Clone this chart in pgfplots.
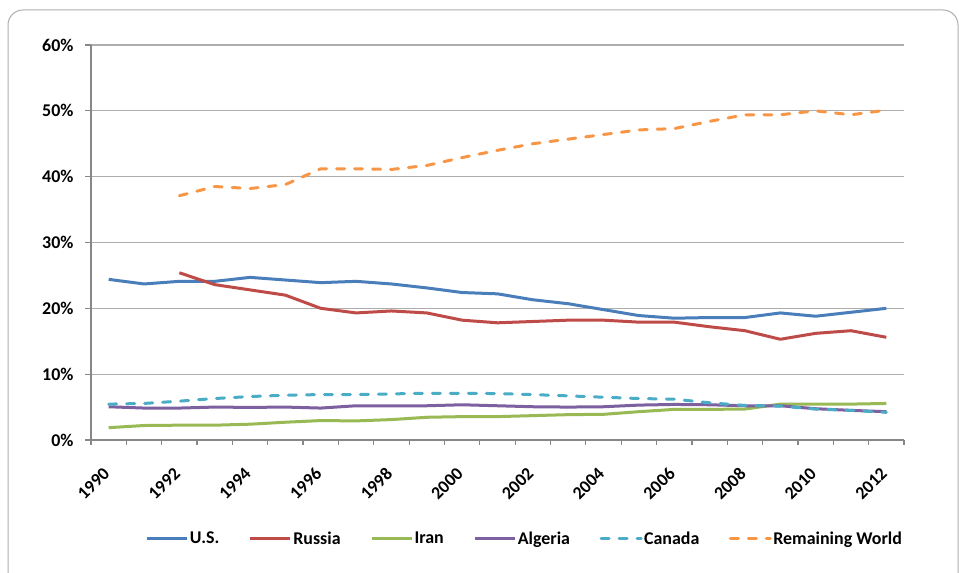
\documentclass[border=0pt]{standalone}
\usepackage{pgfplots}
\pgfplotsset{compat=1.18}
\usepackage{pgfplotstable}
\usepackage{fontspec}
\setmainfont{Carlito}
\definecolor{cUS}{HTML}{4A7EBB}
\definecolor{cRU}{HTML}{BE4B48}
\definecolor{cIR}{HTML}{98B954}
\definecolor{cAL}{HTML}{7D60A0}
\definecolor{cCA}{HTML}{4BACC6}
\definecolor{cRW}{HTML}{F79646}
\definecolor{axgray}{HTML}{878787}
\definecolor{gridgray}{HTML}{ADADAD}
\pgfplotstableread{
year US Russia Iran Algeria Canada RW
1990 24.4 nan 1.87 5.05 5.45 nan
1991 23.7 nan 2.20 4.85 5.55 nan
1992 24.1 25.4 2.25 4.85 5.90 37.1
1993 24.1 23.6 2.25 5.00 6.30 38.5
1994 24.7 22.8 2.40 4.95 6.60 38.2
1995 24.3 22.0 2.70 5.00 6.80 38.8
1996 23.9 20.0 2.95 4.85 6.90 41.2
1997 24.1 19.3 2.90 5.20 6.90 41.2
1998 23.7 19.6 3.10 5.20 7.00 41.1
1999 23.1 19.3 3.45 5.20 7.10 41.7
2000 22.4 18.2 3.55 5.35 7.10 42.9
2001 22.2 17.8 3.55 5.20 7.05 44.0
2002 21.3 18.0 3.70 5.05 6.90 45.0
2003 20.7 18.2 3.85 5.00 6.70 45.7
2004 19.8 18.2 3.90 5.05 6.50 46.4
2005 18.9 17.9 4.30 5.30 6.30 47.1
2006 18.5 17.9 4.65 5.40 6.20 47.3
2007 18.6 17.2 4.65 5.35 5.65 48.4
2008 18.6 16.6 4.70 5.20 5.25 49.4
2009 19.3 15.3 5.45 5.20 5.15 49.4
2010 18.8 16.2 5.45 4.75 4.70 50.0
2011 19.4 16.6 5.45 4.50 4.50 49.4
2012 20.0 15.6 5.55 4.30 4.20 50.1
}\datatable
\begin{document}
\begin{tikzpicture}[x=1bp,y=1bp]
\useasboundingbox (0,0) rectangle (959,573);
\draw[draw=gridgray, line width=1bp, rounded corners=15bp] (8,-20) rectangle (958,563);
\begin{axis}[
  at={(91bp,133bp)}, anchor=south west,
  scale only axis, width=813bp, height=395bp,
  xmin=1989.5, xmax=2012.5, ymin=0, ymax=60,
  axis x line*=bottom, axis y line*=left,
  axis line style={draw=axgray, line width=1.6bp},
  xtick={1990,1992,1994,1996,1998,2000,2002,2004,2006,2008,2010,2012},
  xticklabels={1990,1992,1994,1996,1998,2000,2002,2004,2006,2008,2010,2012},
  minor xtick={1989.5,1990.5,...,2012.5},
  ytick={0,10,20,30,40,50,60},
  yticklabels={0\%,10\%,20\%,30\%,40\%,50\%,60\%},
  major x tick style={draw=none},
  minor tick length=5bp,
  major tick length=6bp,
  tick align=outside,
  tick style={draw=axgray, line width=1.2bp},
  ymajorgrids, grid style={draw=gridgray, line width=1.2bp},
  every tick label/.append style={font=\fontsize{18}{20}\selectfont\bfseries},
  xticklabel style={xshift=-1.5bp, yshift=-24bp, rotate=45, anchor=east, inner sep=1bp},
  yticklabel style={xshift=-8bp},
  legend columns=6,
  legend style={at={(0.533,-0.25)}, anchor=center, draw=none, fill=none,
    font=\fontsize{18}{20}\selectfont\bfseries,
    /tikz/every even column/.append style={column sep=28bp},
    nodes={inner sep=1.5bp}},
  legend image code/.code={\draw[#1] (0bp,0bp) -- (40bp,0bp);},
  every axis plot/.append style={line width=3bp, line join=round},
  unbounded coords=jump,
]
\addplot[cUS] table[x=year,y=US]{\datatable};
\addlegendentry{U.S.}
\addplot[cRU] table[x=year,y=Russia]{\datatable};
\addlegendentry{Russia}
\addplot[cIR] table[x=year,y=Iran]{\datatable};
\addlegendentry{Iran}
\addplot[cAL] table[x=year,y=Algeria]{\datatable};
\addlegendentry{Algeria}
\addplot[cCA, dash pattern=on 8bp off 10bp, line cap=round] table[x=year,y=Canada]{\datatable};
\addlegendentry{Canada}
\addplot[cRW, dash pattern=on 8bp off 10bp, line cap=round] table[x=year,y=RW]{\datatable};
\addlegendentry{Remaining World}
\end{axis}
\end{tikzpicture}
\end{document}
